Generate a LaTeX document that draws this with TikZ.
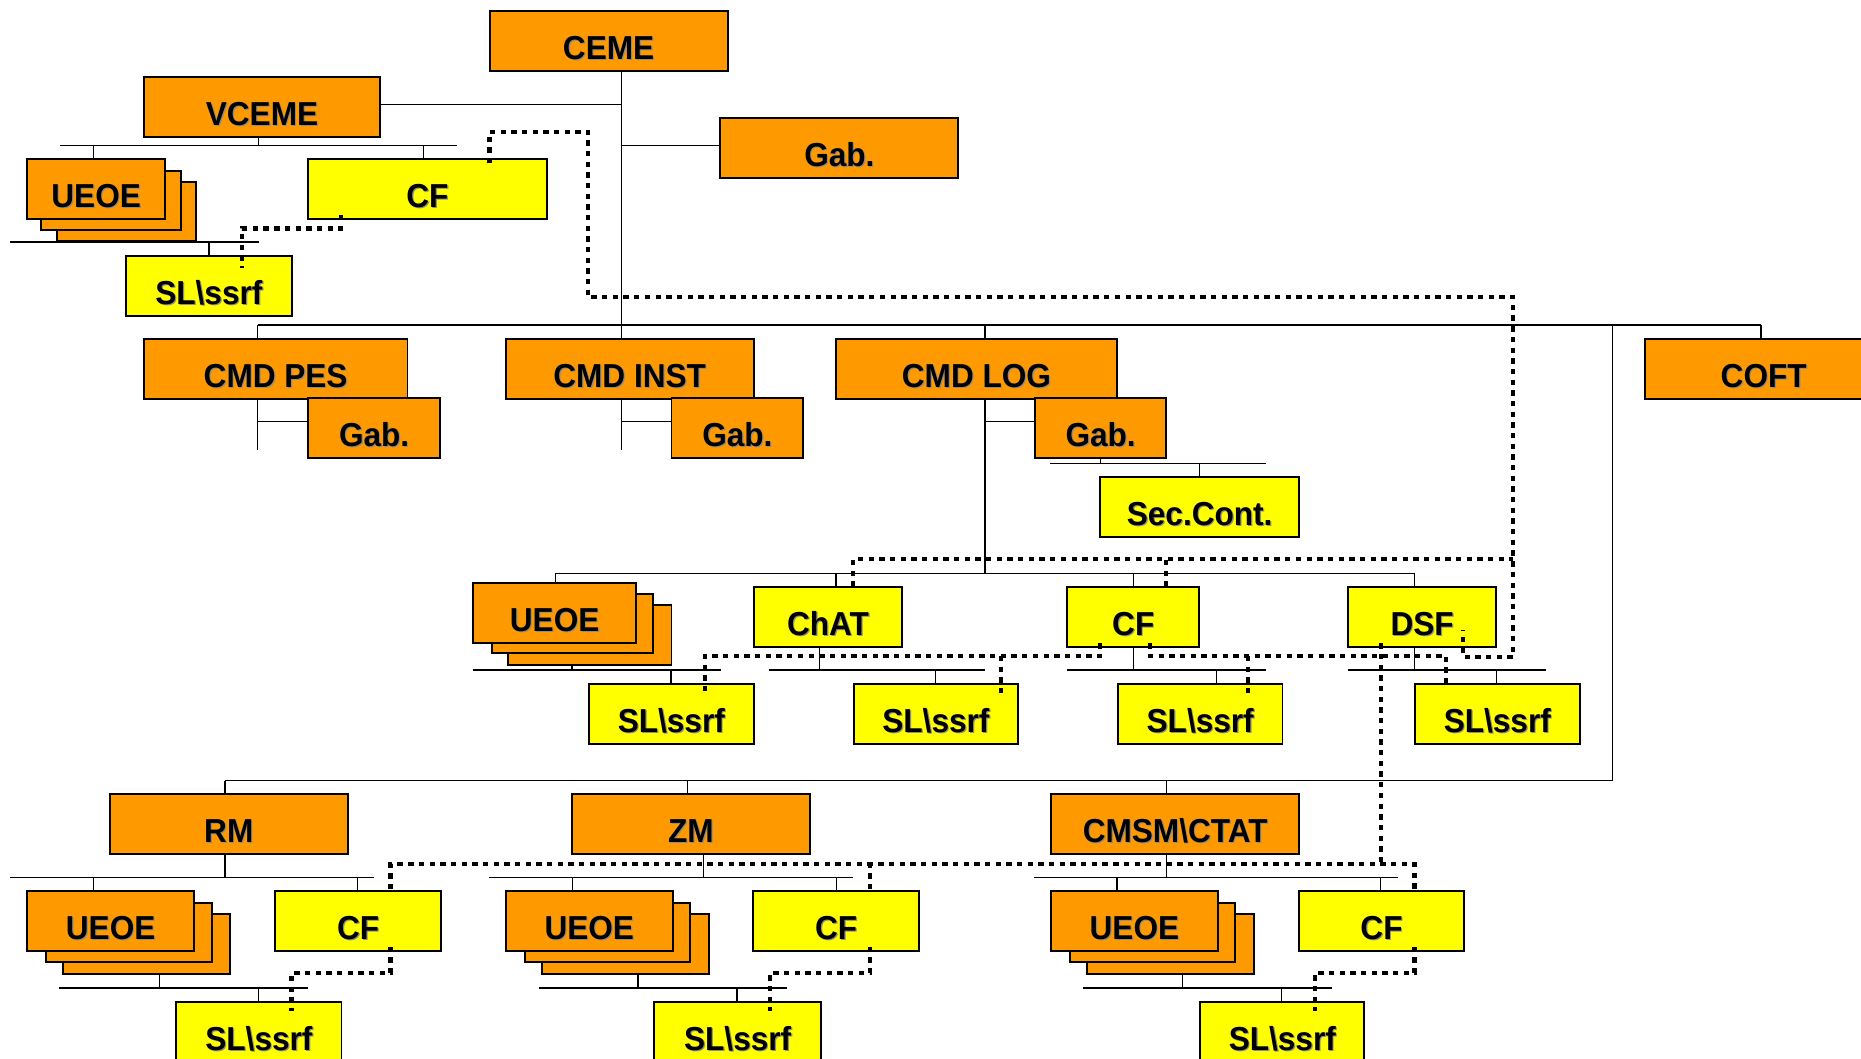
\documentclass[tikz,border=0pt]{standalone}
\usepackage{fontspec}
\setmainfont{Liberation Sans}[FakeStretch=0.95]
\usetikzlibrary{calc}
\definecolor{boxorange}{RGB}{255,153,0}
\definecolor{boxyellow}{RGB}{255,255,0}
\definecolor{textshade}{RGB}{140,140,140}
% label text with a soft grey drop shadow behind it
\newcommand\shadowlabel[1]{\makebox[0pt][l]{\hspace{1pt}\raisebox{-1pt}{\textcolor{textshade}{#1}}}#1}
\tikzset{
  unit/.style={draw=black, line width=1.6pt, minimum height=50.5pt, inner sep=0pt,
    text height=31pt, text depth=0pt, font=\fontsize{28}{30}\selectfont\bfseries},
  ounit/.style={unit, fill=boxorange},
  yunit/.style={unit, fill=boxyellow},
  backsheet/.style={draw=black, line width=1.6pt, fill=boxorange},
  link/.style={line width=1.1pt},
  liaison/.style={line width=3.5pt, dash pattern=on 4.5pt off 4.5pt},
}
\begin{document}
\begin{tikzpicture}[x=1pt, y=-1pt]
\useasboundingbox (0,0) rectangle (1568,892);
\fill[white] (0,0) rectangle (1568,892);

% ---------- hierarchy lines ----------
% command
\draw[link] (523.7,60) -- (523.7,285.6);
\draw[link] (320.5,87.9) -- (523.7,87.9);
\draw[link] (523.7,122.7) -- (606.9,122.7);
% vice command
\draw[link] (217.9,115.2) -- (217.9,122.7);
\draw[link] (50.6,122.7) -- (384.8,122.7);
\draw[link] (78.6,122.7) -- (78.6,134);
\draw[link] (357.1,122.7) -- (357.1,134);
\draw[link] (8.3,204) -- (218,204);
\draw[link] (176,204) -- (176,215.7);
% main bus
\draw[link] (217.2,273.8) -- (1483.7,273.8);
\draw[link] (217.2,273.8) -- (217.2,285.6);
\draw[link] (830,273.8) -- (830,285.6);
\draw[link] (1483.7,273.8) -- (1483.7,285.6);
\draw[link] (1358.5,273.8) -- (1358.5,657.7);
% lower bus
\draw[link] (189.6,657.7) -- (1358.5,657.7);
\draw[link] (189.6,657.7) -- (189.6,669.3);
\draw[link] (579.2,657.7) -- (579.2,669.3);
\draw[link] (982.8,657.7) -- (982.8,669.3);
% CMD PES / CMD INST
\draw[link] (217.2,336.2) -- (217.2,379);
\draw[link] (217.2,355.3) -- (259.5,355.3);
\draw[link] (523.5,336.2) -- (523.5,379);
\draw[link] (523.5,355.3) -- (565.8,355.3);
% CMD LOG
\draw[link] (830,336.2) -- (830,483);
\draw[link] (830,355.3) -- (872.1,355.3);
\draw[link] (927,386) -- (927,390.4);
\draw[link] (885,390.4) -- (1066.8,390.4);
\draw[link] (1010.5,390.4) -- (1010.5,401.6);
\draw[link] (468,483) -- (1191.5,483);
\draw[link] (468,483) -- (468,491.5);
\draw[link] (704.4,483) -- (704.4,494.9);
\draw[link] (955.1,483) -- (955.1,494.9);
\draw[link] (1191.5,483) -- (1191.5,494.9);
\draw[link] (398.4,564.5) -- (607.2,564.5);
\draw[link] (482,560.3) -- (482,564.5);
\draw[link] (565.4,564.5) -- (565.4,576.3);
\draw[link] (648.2,564.5) -- (830,564.5);
\draw[link] (690.3,545.4) -- (690.3,564.5);
\draw[link] (788.3,564.5) -- (788.3,576.3);
\draw[link] (899.2,564.5) -- (1066.8,564.5);
\draw[link] (955.1,545.4) -- (955.1,564.5);
\draw[link] (1024.7,564.5) -- (1024.7,576.3);
\draw[link] (1135.7,564.5) -- (1302.8,564.5);
\draw[link] (1191.5,545.4) -- (1191.5,564.5);
\draw[link] (1261,564.5) -- (1261,576.3);
% RM
\draw[link] (189.6,719.8) -- (189.6,739.2);
\draw[link] (8.3,739.2) -- (315,739.2);
\draw[link] (78.6,739.2) -- (78.6,750.7);
\draw[link] (301.3,739.2) -- (301.3,751.3);
\draw[link] (50,832.4) -- (259.5,832.4);
\draw[link] (134.3,820.9) -- (134.3,832.4);
\draw[link] (217.8,832.4) -- (217.8,844);
% ZM
\draw[link] (593,719.8) -- (593,739.2);
\draw[link] (412.2,739.2) -- (718.5,739.2);
\draw[link] (482.2,739.2) -- (482.2,750.7);
\draw[link] (704.7,739.2) -- (704.7,751.3);
\draw[link] (454,832.4) -- (663.4,832.4);
\draw[link] (537.5,820.9) -- (537.5,832.4);
\draw[link] (620.9,832.4) -- (620.9,844);
% CMSM\CTAT
\draw[link] (982.8,719.8) -- (982.8,739.2);
\draw[link] (871,739.2) -- (1178,739.2);
\draw[link] (941.2,739.2) -- (941.2,750.7);
\draw[link] (1163.4,739.2) -- (1163.4,751.3);
\draw[link] (912.8,832.4) -- (1122.1,832.4);
\draw[link] (996.6,820.9) -- (996.6,832.4);
\draw[link] (1080,832.4) -- (1080,844);

% ---------- units ----------
\node[ounit, minimum width=200.5pt] (CEME) at (512.75,34.75) {\shadowlabel{CEME}};
\node[ounit, minimum width=199.5pt] (VCEME) at (220.75,89.9) {\shadowlabel{VCEME}};
\node[ounit, minimum width=200.6pt] (GabTop) at (707.2,124.7) {\shadowlabel{Gab.}};

\draw[backsheet] (48.3,153) rectangle (165.2,202.8);
\draw[backsheet] (34.6,144) rectangle (152.6,194);
\node[ounit, minimum width=116.6pt] (UEOEa) at (81,159.4) {\shadowlabel{UEOE}};
\node[yunit, minimum width=201.3pt] (CFa) at (360.15,159.5) {\shadowlabel{CF}};
\node[yunit, minimum width=140pt] (SLa) at (176,241) {\shadowlabel{SL\textbackslash ssrf}};

\node[ounit, minimum width=222.1pt] (CMDPES) at (232.25,310.9) {\shadowlabel{CMD PES}};
\node[ounit, minimum width=111.5pt] (GabPES) at (315.25,360.5) {\shadowlabel{Gab.}};
\node[ounit, minimum width=208.9pt] (CMDINST) at (530.55,310.9) {\shadowlabel{CMD INST}};
\node[ounit, minimum width=111pt] (GabINST) at (621.3,360.5) {\shadowlabel{Gab.}};
\node[ounit, minimum width=236.4pt] (CMDLOG) at (822.7,310.9) {\shadowlabel{CMD LOG}};
\node[ounit, minimum width=110.5pt] (GabLOG) at (927.35,360.5) {\shadowlabel{Gab.}};
\node[yunit, minimum width=167.3pt] (SecCont) at (1010.75,427.15) {\shadowlabel{Sec.Cont.}};
\node[ounit, minimum width=200pt] (COFT) at (1486,310.9) {\shadowlabel{COFT}};

\draw[backsheet] (428.3,510) rectangle (565.8,560.3);
\draw[backsheet] (414.2,500.5) rectangle (550.4,550.5);
\node[ounit, minimum width=137.1pt] (UEOEb) at (467.35,516.5) {\shadowlabel{UEOE}};
\node[yunit, minimum width=125.3pt] (ChAT) at (697.65,520.15) {\shadowlabel{ChAT}};
\node[yunit, minimum width=111.3pt] (CFb) at (954.85,520.15) {\shadowlabel{CF}};
\node[yunit, minimum width=125pt] (DSF) at (1198.2,520.15) {\shadowlabel{DSF}};
\node[yunit, minimum width=138.8pt] (SLb) at (565.6,601.45) {\shadowlabel{SL\textbackslash ssrf}};
\node[yunit, minimum width=138.1pt] (SLc) at (788.55,601.45) {\shadowlabel{SL\textbackslash ssrf}};
\node[yunit, minimum width=138.8pt] (SLd) at (1011.2,601.45) {\shadowlabel{SL\textbackslash ssrf}};
\node[yunit, minimum width=139.3pt] (SLe) at (1261.55,601.45) {\shadowlabel{SL\textbackslash ssrf}};

\node[ounit, minimum width=200.5pt] (RM) at (192.75,694.55) {\shadowlabel{RM}};
\node[ounit, minimum width=200.6pt] (ZM) at (582.1,694.55) {\shadowlabel{ZM}};
\node[ounit, minimum width=208.9pt] (CMSM) at (990.15,694.55) {\shadowlabel{CMSM\textbackslash CTAT}};

\draw[backsheet] (53,770.4) rectangle (194.1,820.9);
\draw[backsheet] (38.8,760.5) rectangle (178.3,810.5);
\node[ounit, minimum width=140.7pt] (UEOEc) at (93.25,776) {\shadowlabel{UEOE}};
\node[yunit, minimum width=139.6pt] (CFc) at (301.8,776.3) {\shadowlabel{CF}};
\node[yunit, minimum width=139.1pt] (SLf) at (218.15,869.25) {\shadowlabel{SL\textbackslash ssrf}};

\draw[backsheet] (456.6,770.4) rectangle (597.3,820.9);
\draw[backsheet] (442.3,760.5) rectangle (581.4,810.5);
\node[ounit, minimum width=140.6pt] (UEOEd) at (496.5,776) {\shadowlabel{UEOE}};
\node[yunit, minimum width=139.6pt] (CFd) at (704.5,776.3) {\shadowlabel{CF}};
\node[yunit, minimum width=140.4pt] (SLg) at (621.5,869.25) {\shadowlabel{SL\textbackslash ssrf}};

\draw[backsheet] (916.2,770.4) rectangle (1056.4,820.9);
\draw[backsheet] (901.5,760.5) rectangle (1040.5,810.5);
\node[ounit, minimum width=140.2pt] (UEOEe) at (955.8,776) {\shadowlabel{UEOE}};
\node[yunit, minimum width=139pt] (CFe) at (1164,776.3) {\shadowlabel{CF}};
\node[yunit, minimum width=138.4pt] (SLh) at (1080.4,869.25) {\shadowlabel{SL\textbackslash ssrf}};

% ---------- functional links (dotted) ----------
\draw[liaison] (412.4,137.6) -- (412.4,111) -- (495.7,111) -- (495.7,250.5)
  -- (1275,250.5) -- (1275,553.3) -- (1233,553.3) -- (1233,531);
\draw[liaison] (718.8,494.3) -- (718.8,471.3) -- (1275,471.3);
\draw[liaison] (982.5,494.3) -- (982.5,471.3);
\draw[liaison] (287,181) -- (287,192.5) -- (204,192.5) -- (204,225.5);
\draw[liaison] (927,542) -- (927,552.7) -- (594,552.7) -- (594,583.6);
\draw[liaison] (843.3,552.7) -- (843.3,583.6);
\draw[liaison] (968.8,542) -- (968.8,552.7) -- (1218.5,552.7) -- (1218.5,575.6);
\draw[liaison] (1051.8,552.7) -- (1051.8,583.6);
\draw[liaison] (1163.6,542) -- (1163.6,728.2);
\draw[liaison] (329,749.3) -- (329,728.2) -- (1191.8,728.2) -- (1191.8,749.3);
\draw[liaison] (732.7,749.3) -- (732.7,728.2);
\draw[liaison] (329,797.6) -- (329,820) -- (245.6,820) -- (245.6,851.5);
\draw[liaison] (732.7,797.6) -- (732.7,820) -- (648.8,820) -- (648.8,851.5);
\draw[liaison] (1191.8,797.6) -- (1191.8,820) -- (1108,820) -- (1108,851.5);
\end{tikzpicture}
\end{document}
